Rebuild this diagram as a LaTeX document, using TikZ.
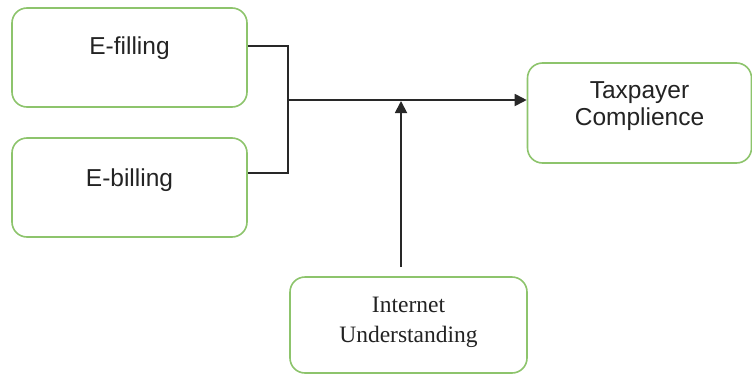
\documentclass[tikz,border=0pt]{standalone}
\usepackage{fontspec}
\setmainfont{Liberation Sans}
\newfontfamily\serifface{Liberation Serif}
\usetikzlibrary{arrows.meta}
\definecolor{boxgreen}{RGB}{141,196,108}
\definecolor{linegray}{RGB}{40,40,40}
\definecolor{txtgray}{RGB}{35,35,35}
\begin{document}
\begin{tikzpicture}[x=1pt,y=-1pt,
  box/.style={draw=boxgreen,line width=1.6pt,rounded corners=15pt,fill=white,inner sep=0pt},
  sanstxt/.style={font=\fontsize{24.5}{27}\selectfont,text=txtgray,align=center},
  seriftxt/.style={font=\serifface\fontsize{23.5}{30}\selectfont,text=txtgray,align=center},
  conn/.style={draw=linegray,line width=1.8pt},
  arr/.style={conn,-{Triangle[length=12pt,width=12pt]}}]
\useasboundingbox (0,0) rectangle (752,375);
\node[box,minimum width=235pt,minimum height=99pt] (ef) at (129.5,57.5) {};
\node[sanstxt] (eft) at (129.5,48) {E-filling};
\node[box,minimum width=235pt,minimum height=99pt] (eb) at (129.5,187.5) {};
\node[sanstxt] (ebt) at (129.5,180) {E-billing};
\node[box,minimum width=224pt,minimum height=100pt] (tc) at (639.5,113) {};
\node[sanstxt] (tct) at (639.5,106.5) {Taxpayer\\Complience};
\node[box,minimum width=237pt,minimum height=96pt] (iu) at (408.5,325) {};
\node[seriftxt] (iut) at (408.5,322) {Internet\\Understanding};
\coordinate (j) at (288,100);
\coordinate (m) at (401,101);
\draw[conn] ([yshift=11.5pt]ef.east) -| (j);
\draw[conn] ([yshift=14.5pt]eb.east) -| (j);
\draw[arr] (j) -- ([yshift=13pt]tc.west);
\draw[arr] ([xshift=-7.5pt,yshift=9pt]iu.north) -- (m);
\end{tikzpicture}
\end{document}
